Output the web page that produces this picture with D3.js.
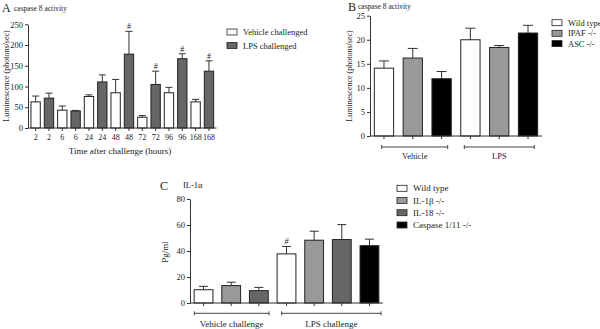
<!DOCTYPE html>
<html><head><meta charset="utf-8">
<script src="https://cdn.jsdelivr.net/npm/d3@7"></script>
<style>body{margin:0;background:#fff}svg{display:block}text{font-family:"Liberation Serif","Times New Roman",serif;fill:#222}</style>
</head><body>
<svg id="c" width="600" height="329"></svg>
<script>
// ---------- Panel A data ----------
const aLabels = ["2","2","6","6","24","24","48","48","72","72","96","96","168","168"];
const aGroup  = ["V","L","V","L","V","L","V","L","V","L","V","L","V","L"];
const aValues = [63,72,43,41,76,111,85,178,26,105,85,167,63,137];
const aErrTop = [77,84,53,42.5,80,128,117,233,30,137,98,179,69,162];
const aHash   = [false,false,false,false,false,false,false,true,false,true,false,true,false,true];
const aTicks  = [0,50,100,150,200,250];
const aLegend = ["Vehicle challenged","LPS challenged"];

// ---------- Panel B data ----------
const bSeries = ["Wild type","IPAF -/-","ASC -/-"];
const bGroups = ["Vehicle","LPS"];
const bValues = [14.1,16.2,11.9, 20.0,18.4,21.4];
const bErrTop = [15.6,18.2,13.4, 22.4,18.8,23.0];
const bTicks  = [0,5,10,15,20,25];

// ---------- Panel C data ----------
const cSeries = ["Wild type","IL-1β -/-","IL-18 -/-","Caspase 1/11 -/-"];
const cGroups = ["Vehicle challenge","LPS challenge"];
const cBarSeries = [0,1,2, 0,1,2,3];
const cBarGroup  = [0,0,0, 1,1,1,1];
const cValues = [10.2,13.4,9.5, 37.8,48.3,48.8,44.1];
const cErrTop = [12.8,16.0,12.0, 43.5,55.2,60.3,49.1];
const cHash   = [false,false,false,true,false,false,false];
const cTicks  = [0,20,40,60,80];

const svg = d3.select("#c");
const AX = "#333";

function yAxis(g, y, x0, ticks){
  const ax = g.append("g").attr("transform",`translate(${x0},0)`)
    .call(d3.axisLeft(y).tickValues(ticks).tickSize(3).tickPadding(2).tickSizeOuter(0));
  ax.select(".domain").attr("stroke",AX);
  ax.selectAll(".tick line").attr("stroke",AX);
  ax.selectAll("text").attr("font-size",8.5).attr("font-family","Liberation Serif").attr("fill","#222");
  return ax;
}
function bars(g, x, y, vals, errs, fills, capW){
  const idx = d3.range(vals.length);
  g.selectAll(null).data(idx).join("rect")
    .attr("x",i=>x(i)).attr("width",x.bandwidth())
    .attr("y",i=>y(vals[i])).attr("height",i=>y(0)-y(vals[i]))
    .attr("fill",i=>fills[i]).attr("stroke","#222").attr("stroke-width",1);
  g.selectAll(null).data(idx).join("line")
    .attr("x1",i=>x(i)+x.bandwidth()/2).attr("x2",i=>x(i)+x.bandwidth()/2)
    .attr("y1",i=>y(vals[i])).attr("y2",i=>y(errs[i])).attr("stroke","#333");
  g.selectAll(null).data(idx).join("line")
    .attr("x1",i=>x(i)+x.bandwidth()/2-capW/2).attr("x2",i=>x(i)+x.bandwidth()/2+capW/2)
    .attr("y1",i=>y(errs[i])).attr("y2",i=>y(errs[i])).attr("stroke","#333");
}
function baseline(g, x, y, x0, x1, n){
  g.append("line").attr("x1",x0).attr("x2",x1).attr("y1",y(0)).attr("y2",y(0)).attr("stroke",AX);
  g.selectAll(null).data(d3.range(n)).join("line")
    .attr("x1",i=>x(i)+x.bandwidth()/2).attr("x2",i=>x(i)+x.bandwidth()/2)
    .attr("y1",y(0)).attr("y2",y(0)+3).attr("stroke",AX);
}
function bracket(g, x0, x1, yy, label, fs, ly){
  g.append("line").attr("x1",x0).attr("x2",x1).attr("y1",yy).attr("y2",yy).attr("stroke","#444");
  [x0,x1].forEach(xx=>g.append("line").attr("x1",xx).attr("x2",xx).attr("y1",yy-2).attr("y2",yy+2).attr("stroke","#444"));
  g.append("text").attr("x",(x0+x1)/2).attr("y",ly).attr("text-anchor","middle").attr("font-size",fs).text(label);
}
function legend(g, x0, ys, labels, fills, fs){
  labels.forEach((l,i)=>{
    g.append("rect").attr("x",x0).attr("y",ys[i]-3).attr("width",10).attr("height",6)
      .attr("fill",fills[i]).attr("stroke","#222").attr("stroke-width",0.8);
    g.append("text").attr("x",x0+16).attr("y",ys[i]+3).attr("font-size",fs).text(l);
  });
}

// ===== Panel A =====
{
  const g = svg.append("g");
  const y = d3.scaleLinear().domain([0,250]).range([128,24.3]);
  const x = d3.scaleBand().domain(d3.range(aValues.length)).range([28.3,216.3]).paddingInner(0.3).paddingOuter(0.2);
  const fills = aGroup.map(d=>d==="V"?"#fff":"#666");
  bars(g,x,y,aValues,aErrTop,fills,7);
  baseline(g,x,y,28,216.5,aValues.length);
  yAxis(g,y,28,aTicks);
  g.selectAll(null).data(d3.range(aLabels.length)).join("text")
    .attr("x",i=>x(i)+x.bandwidth()/2).attr("y",140).attr("text-anchor","middle").attr("font-size",8)
    .text(i=>aLabels[i]);
  g.selectAll(null).data(d3.range(aValues.length).filter(i=>aHash[i])).join("text")
    .attr("x",i=>x(i)+x.bandwidth()/2).attr("y",i=>y(aErrTop[i])-2).attr("text-anchor","middle").attr("font-size",8)
    .text("#");
  g.append("text").attr("x",120).attr("y",154).attr("text-anchor","middle").attr("font-size",9).text("Time after challenge (hours)");
  g.append("text").attr("transform","translate(9,76) rotate(-90)").attr("text-anchor","middle").attr("font-size",8).text("Luminescence (photons/sec)");
  g.append("text").attr("x",2).attr("y",12).attr("font-size",12).text("A");
  g.append("text").attr("x",14).attr("y",11).attr("font-size",7.5).text("caspase 8 activity");
  legend(g,227,[32,45.5],aLegend,["#fff","#666"],8.5);
}

// ===== Panel B =====
{
  const g = svg.append("g");
  const y = d3.scaleLinear().domain([0,25]).range([136,15.7]);
  const x = d3.scaleBand().domain(d3.range(bValues.length)).range([370,542]).paddingInner(0.33).paddingOuter(0.15);
  const sFill = ["#fff","#999","#000"];
  const fills = bValues.map((v,i)=>sFill[i%3]);
  bars(g,x,y,bValues,bErrTop,fills,10);
  baseline(g,x,y,370,542,bValues.length);
  yAxis(g,y,370,bTicks);
  bracket(g,381.7,447.7,147,bGroups[0],8.5,158.5);
  bracket(g,464.3,534.3,147,bGroups[1],8.5,158.5);
  g.append("text").attr("transform","translate(352,76) rotate(-90)").attr("text-anchor","middle").attr("font-size",8).text("Luminescence (photons/sec)");
  g.append("text").attr("x",348).attr("y",11).attr("font-size",12).text("B");
  g.append("text").attr("x",358).attr("y",9).attr("font-size",7.5).text("caspase 8 activity");
  legend(g,552,[22.7,33.3,43.6],bSeries,sFill,8.5);
}

// ===== Panel C =====
{
  const g = svg.append("g");
  const y = d3.scaleLinear().domain([0,80]).range([303,199]);
  const x = d3.scaleBand().domain(d3.range(cValues.length)).range([190,383]).paddingInner(0.32).paddingOuter(0.15);
  const sFill = ["#fff","#999","#666","#000"];
  const fills = cBarSeries.map(s=>sFill[s]);
  bars(g,x,y,cValues,cErrTop,fills,9);
  baseline(g,x,y,190,383,cValues.length);
  yAxis(g,y,190,cTicks);
  g.selectAll(null).data(d3.range(cValues.length).filter(i=>cHash[i])).join("text")
    .attr("x",i=>x(i)+x.bandwidth()/2).attr("y",i=>y(cErrTop[i])-2).attr("text-anchor","middle").attr("font-size",8).attr("font-style","italic")
    .text("#");
  bracket(g,194.3,269,313.3,cGroups[0],9,327);
  bracket(g,281.7,381,313.3,cGroups[1],9,327);
  g.append("text").attr("transform","translate(168,252) rotate(-90)").attr("text-anchor","middle").attr("font-size",9).text("Pg/ml");
  g.append("text").attr("x",160).attr("y",190).attr("font-size",12).text("C");
  g.append("text").attr("x",183).attr("y",188).attr("font-size",8.5).text("IL-1α");
  legend(g,397,[188.3,200.5,212.7,225],cSeries,sFill,9);
}
</script>
</body></html>
